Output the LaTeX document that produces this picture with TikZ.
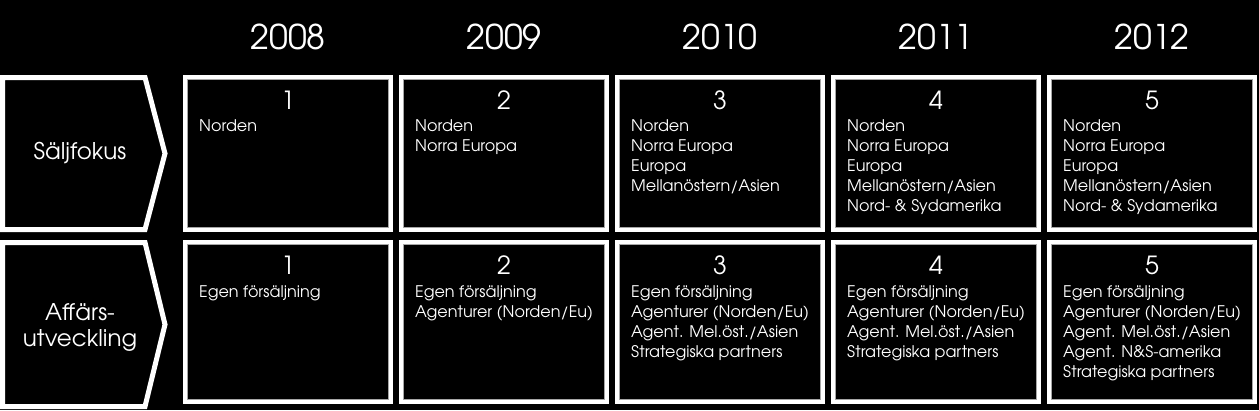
\documentclass[tikz,border=0pt]{standalone}
\usepackage{fontspec}
\setmainfont{TeX Gyre Adventor}
\usetikzlibrary{positioning, calc}

\begin{document}
\begin{tikzpicture}[
  x=1pt, y=-1pt,
  year/.style = {text=white, inner sep=0pt, font=\fontsize{34}{34}\selectfont},
  block/.style = {draw=white, line width=4pt, minimum width=206pt, inner sep=0pt},
  topblock/.style = {block, minimum height=153pt},
  botblock/.style = {block, minimum height=160pt},
  rim/.style = {draw=gray!70, line width=1pt},
  num/.style = {text=white, inner sep=0pt, font=\fontsize{25}{25}\selectfont},
  items/.style = {text=white, inner sep=0pt, anchor=base west, align=left, font=\fontsize{16}{20}\selectfont},
  chevron/.style = {draw=white, line width=5pt, line join=miter},
  rowtext/.style = {text=white, inner sep=0pt, align=center, font=\fontsize{23}{26}\selectfont}
]

  % background
  \fill[black] (0,0) rectangle (1259,410);
  \useasboundingbox (0,0) rectangle (1259,410);

  % row headings
  \draw[chevron] (2.5,77.5) -- (145,77.5) -- (165,153.5) -- (145,229.5) -- (2.5,229.5) -- cycle;
  \node[rowtext] (saljfokus) at (80,153) {Säljfokus};
  \draw[chevron] (2.5,242.5) -- (145,242.5) -- (165,324.5) -- (145,406.5) -- (2.5,406.5) -- cycle;
  \node[rowtext] (affars) at (80,327) {Affärs-\\utveckling};

  % years and boxes
  \foreach \i in {1,...,5} {
    \node[year] (y\i) at ({288+216*(\i-1)},37) {\the\numexpr2007+\i\relax};
    \node[topblock] (s\i) at ({288+216*(\i-1)},153.5) {};
    \node[botblock] (a\i) at ({288+216*(\i-1)},322) {};
    \draw[rim] ($(s\i.north west)+(4.5,4.5)$) rectangle ($(s\i.south east)+(-4.5,-4.5)$);
    \draw[rim] ($(a\i.north west)+(4.5,4.5)$) rectangle ($(a\i.south east)+(-4.5,-4.5)$);
    \node[num] (sn\i) at ($(s\i.north)+(0,25)$) {\i};
    \node[num] (an\i) at ($(a\i.north)+(0,25)$) {\i};
  }

  % Säljfokus (base = last line)
  \node[items] (sl1) at ($(s1.north west)+(16,56)$) {Norden};
  \node[items] (sl2) at ($(s2.north west)+(16,76)$) {Norden\\Norra Europa};
  \node[items] (sl3) at ($(s3.north west)+(16,116)$) {Norden\\Norra Europa\\Europa\\Mellanöstern/Asien};
  \node[items] (sl4) at ($(s4.north west)+(16,136)$) {Norden\\Norra Europa\\Europa\\Mellanöstern/Asien\\Nord- \& Sydamerika};
  \node[items] (sl5) at ($(s5.north west)+(16,136)$) {Norden\\Norra Europa\\Europa\\Mellanöstern/Asien\\Nord- \& Sydamerika};

  % Affärsutveckling
  \node[items] (al1) at ($(a1.north west)+(16,57)$) {Egen försäljning};
  \node[items] (al2) at ($(a2.north west)+(16,77)$) {Egen försäljning\\Agenturer (Norden/Eu)};
  \node[items] (al3) at ($(a3.north west)+(16,117)$) {Egen försäljning\\Agenturer (Norden/Eu)\\Agent. Mel.öst./Asien\\Strategiska partners};
  \node[items] (al4) at ($(a4.north west)+(16,117)$) {Egen försäljning\\Agenturer (Norden/Eu)\\Agent. Mel.öst./Asien\\Strategiska partners};
  \node[items] (al5) at ($(a5.north west)+(16,137)$) {Egen försäljning\\Agenturer (Norden/Eu)\\Agent. Mel.öst./Asien\\Agent. N\&S-amerika\\Strategiska partners};

\end{tikzpicture}
\end{document}
